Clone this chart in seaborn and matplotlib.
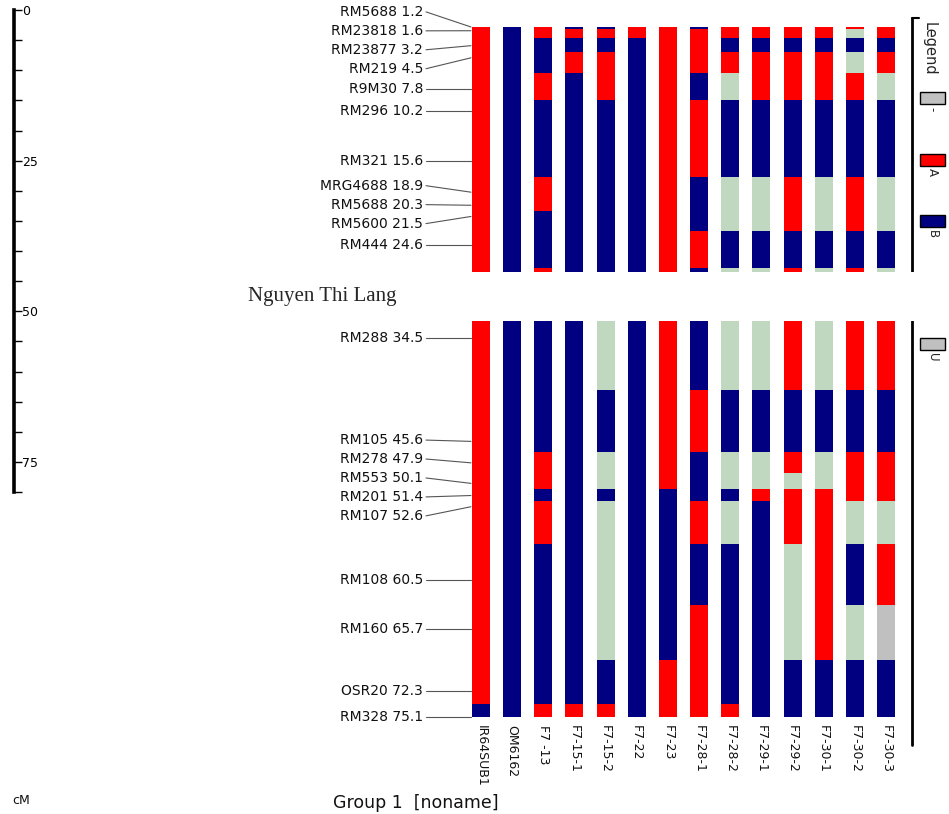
"""
Graphical genotype - Group 1 [noname]
Recreates a GGT-style graphical genotype chart with seaborn/matplotlib
"""

import numpy as np
import pandas as pd
import matplotlib
matplotlib.use('Agg')
import matplotlib.pyplot as plt
from matplotlib.patches import Rectangle
from matplotlib.ticker import MultipleLocator
import seaborn as sns

# ========== DATA ==========
# markers (name, position in cM); the unnamed one sits under the white label box
marker_names = ['RM5688', 'RM23818', 'RM23877', 'RM219', 'R9M30', 'RM296', 'RM321',
                'MRG4688', 'RM5688', 'RM5600', 'RM444', '', 'RM288', 'RM105', 'RM278',
                'RM553', 'RM201', 'RM107', 'RM108', 'RM160', 'OSR20', 'RM328']
marker_cm = [1.2, 1.6, 3.2, 4.5, 7.8, 10.2, 15.6, 18.9, 20.3, 21.5, 24.6, 29.4,
             34.5, 45.6, 47.9, 50.1, 51.4, 52.6, 60.5, 65.7, 72.3, 75.1]

lines = ['IR64SUB1', 'OM6162', 'F7 -13', 'F7-15-1', 'F7-15-2', 'F7-22', 'F7-23',
         'F7-28-1', 'F7-28-2', 'F7-29-1', 'F7-29-2', 'F7-30-1', 'F7-30-2', 'F7-30-3']

# one character per marker: A = parent A, B = parent B, - = missing, U = unknown
genotypes = [
    'AAAAAAAAAAAA' + 'AAAAAAAAAB',   # IR64SUB1
    'BBBBBBBBBBBB' + 'BBBBBBBBBB',   # OM6162
    'AABBABBAABBA' + 'BBAABABBBA',   # F7 -13
    'BABABBBBBBBB' + 'BBBBBBBBBA',   # F7-15-1
    'BABAABBBBBBB' + '-B--B---BA',   # F7-15-2
    'AABBBBBBBBBB' + 'BBBBBBBBBB',   # F7-22
    'AAAAAAAAAAAA' + 'AAAABBBBAA',   # F7-23
    'BAAABAABBBAB' + 'BABBBABAAA',   # F7-28-1
    'AABA-BB---B-' + '-B--B-BBBA',   # F7-28-2
    'AABAABB---B-' + '-B--ABBBBB',   # F7-29-1
    'AABAABBAAABA' + 'ABA-AA--BB',   # F7-29-2
    'AABAABB---B-' + '-B--AAAABB',   # F7-30-1
    'A-B-ABBAAABA' + 'ABAAA-B-BB',   # F7-30-2
    'AABA-BB---B-' + 'ABAAA-AUBB',   # F7-30-3
]

geno_colors = {'A': '#ff0000', 'B': '#000080', '-': '#bfd8bf', 'U': '#c0c0c0'}
legend_labels = ['-', 'A', 'B', 'U']
legend_colors = {'-': '#c0c0c0', 'A': '#ff0000', 'B': '#000080', 'U': '#c0c0c0'}

ruler_max = 80

# ========== LAYOUT HELPERS ==========
W, H = 949, 814
COL0, COL_STEP = 481, 31.15      # pixel x of first column, column spacing
Y0, Y_STEP = 15.8, 9.333         # pixel y of 0 cM, pixels per cM


def px2x(px):
    return (px - COL0) / COL_STEP


def py2y(py):
    return (py - Y0) / Y_STEP


def fx(px):
    return px / W


def fy(py):
    return 1 - py / H


def spread_labels(pos, gap):
    """push overlapping labels apart, centred on their cluster"""
    clusters = [[p] for p in pos]

    def place(c):
        mid = np.mean(c)
        return [mid + (j - (len(c) - 1) / 2) * gap for j in range(len(c))]

    merged = True
    while merged:
        merged = False
        for j in range(len(clusters) - 1):
            if place(clusters[j])[-1] + gap > place(clusters[j + 1])[0]:
                clusters[j] = clusters[j] + clusters.pop(j + 1)
                merged = True
                break
    out = []
    for c in clusters:
        out += place(c)
    return out


# ========== SEGMENTS ==========
cm = np.array(marker_cm)
edges = np.concatenate([[cm[0]], (cm[:-1] + cm[1:]) / 2, [cm[-1]]])

rows = []
for i, line in enumerate(lines):
    for k, g in enumerate(genotypes[i]):
        rows.append({'line': line, 'idx': i, 'start': edges[k],
                     'end': edges[k + 1], 'geno': g})
seg = pd.DataFrame(rows)
seg['color'] = seg['geno'].map(geno_colors)

# ========== PLOT ==========
sns.set_theme(style='white')
plt.rcParams['font.family'] = ['DejaVu Sans']

fig = plt.figure(figsize=(W / 100, H / 100), dpi=100)
fig.patch.set_facecolor('white')
ax = fig.add_axes([0, 0, 1, 1])
ax.set_xlim(px2x(0), px2x(W))
ax.set_ylim(py2y(H), py2y(0))
ax.axis('off')

# genotype bars
ax.bar(seg['idx'], seg['end'] - seg['start'], bottom=seg['start'],
       width=18 / COL_STEP, color=seg['color'], linewidth=0, zorder=2)

# marker labels with leader lines
vis = [(n, p) for n, p in zip(marker_names, marker_cm) if n]
label_y = spread_labels([p for _, p in vis], 2.03)
for (name, pos), ly in zip(vis, label_y):
    ax.text(px2x(423), ly, f'{name} {pos}', ha='right', va='center',
            fontsize=10, color='#111111')
    ax.plot([px2x(426), px2x(471)], [ly, pos], color='#555555', lw=0.8)

# line names under the bars
for i, line in enumerate(lines):
    ax.text(i, py2y(725), line, rotation=270, ha='center', va='top',
            fontsize=9, color='#111111')

# legend frame and entries
T = ax.transAxes
ax.plot([fx(912), fx(912)], [fy(18), fy(745)], color='black', lw=2, transform=T)
ax.plot([fx(912), fx(919)], [fy(18), fy(18)], color='black', lw=1.5, transform=T)
ax.text(fx(929), fy(22), 'Legend', rotation=270, ha='center', va='top',
        fontsize=10.5, transform=T)
for lab, slot in zip(legend_labels, [0, 1, 2, 4]):
    top = 92 + 61.5 * slot
    ax.add_patch(Rectangle((fx(920), fy(top + 12)), fx(945) - fx(920), 12 / H,
                           facecolor=legend_colors[lab], edgecolor='black',
                           lw=1, transform=T))
    ax.text(fx(932), fy(top + 15), lab, rotation=270, ha='center', va='top',
            fontsize=8.5, transform=T)

# white label box pasted over the chart
ax.add_patch(Rectangle((fx(60), fy(320.5)), fx(W) - fx(60), 48.5 / H,
                       facecolor='white', edgecolor='none', transform=T, zorder=10))
ax.text(fx(322), fy(296), 'Nguyen Thi Lang', ha='center', va='center',
        fontsize=15, family='Liberation Serif', transform=T, zorder=11)

# bottom captions
fig.text(fx(333), fy(803), 'Group 1  [noname]', va='center', fontsize=12.5,
         color='#111111')
fig.text(fx(12), fy(800), 'cM', va='center', fontsize=9, color='#111111')

# ========== cM RULER ==========
ax_r = fig.add_axes([0, fy(10 + ruler_max * 6.025), fx(14), ruler_max * 6.025 / H])
ax_r.patch.set_visible(False)
ax_r.set_ylim(ruler_max, 0)
sns.despine(ax=ax_r, left=True, bottom=True, top=True, right=False)
ax_r.spines['right'].set_linewidth(2.6)
ax_r.spines['right'].set_color('black')
ax_r.yaxis.tick_right()
ax_r.set_yticks([0, 25, 50, 75])
ax_r.yaxis.set_minor_locator(MultipleLocator(5))
ax_r.set_xticks([])
ax_r.tick_params(axis='y', which='both', direction='out', length=5.5, width=1,
                 labelsize=9, pad=0, right=True, colors='black')

plt.savefig('out.png', dpi=100)
print("Saved: out.png")
